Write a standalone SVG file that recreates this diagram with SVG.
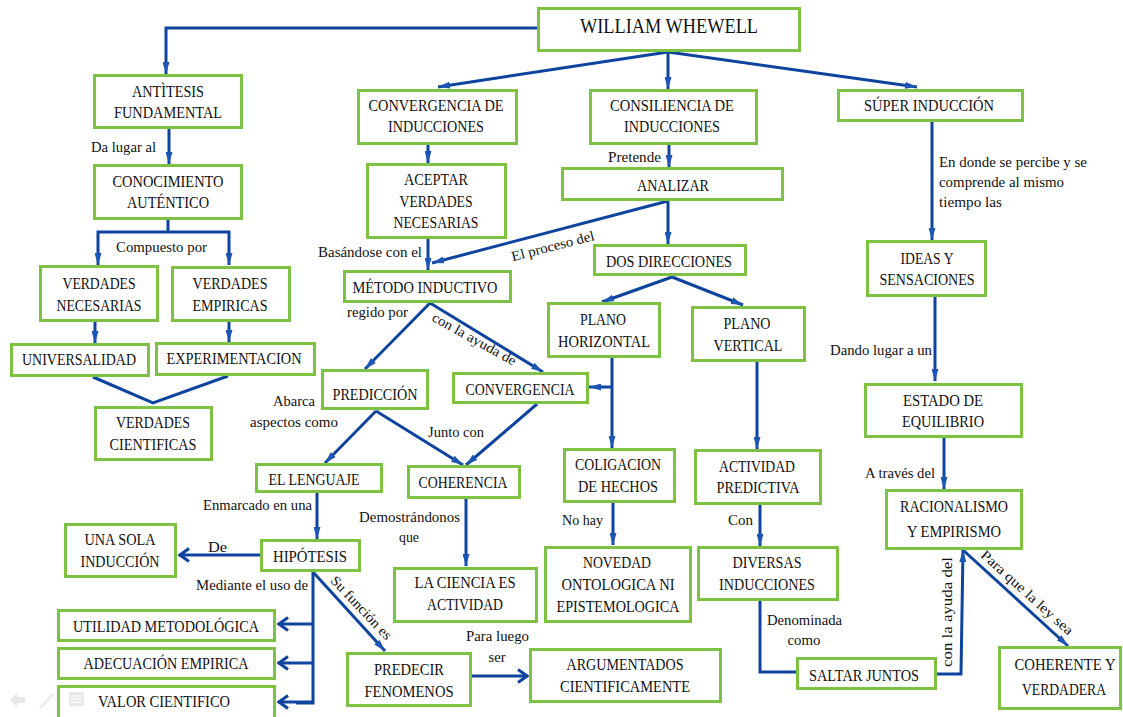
<svg xmlns="http://www.w3.org/2000/svg" width="1123" height="717" viewBox="0 0 1123 717">
  <defs>
    <style>
      .box { fill: #ffffff; stroke: #7dc242; stroke-width: 3; }
      .ln { fill: none; stroke: #0e449e; stroke-width: 3; stroke-linejoin: miter; }
      .arr { marker-end: url(#tri); }
      .opn { marker-end: url(#chev); }
      text { font-family: "Liberation Serif", "Times New Roman", serif; fill: #111111; }
      .t { font-size: 21px; text-anchor: middle; }
      .n { font-size: 16px; text-anchor: middle; }
      .l { font-size: 14px; }
      .lc { font-size: 14px; text-anchor: middle; }
      .ui { fill: #e8e8e8; stroke: none; }
    </style>
    <marker id="tri" viewBox="0 0 12 7" refX="12" refY="3.5" markerWidth="12" markerHeight="7" markerUnits="userSpaceOnUse" orient="auto">
      <path d="M0,0 L12,3.5 L0,7 Z" fill="#1c55b4"/>
    </marker>
    <marker id="chev" viewBox="0 0 12 16" refX="11" refY="8" markerWidth="12" markerHeight="16" markerUnits="userSpaceOnUse" orient="auto">
      <path d="M1,1.5 L10,8 L1,14.5" fill="none" stroke="#0e449e" stroke-width="3"/>
    </marker>
  </defs>

  <rect x="0" y="0" width="1123" height="717" fill="#ffffff"/>

  <!-- connectors -->
  <g id="connectors">
    <polyline class="ln arr" points="537,28 166,28 166,74"/>
    <line class="ln arr" x1="169" y1="129" x2="169" y2="164"/>
    <polyline class="ln" points="168,220 168,232"/>
    <polyline class="ln arr" points="168,232 98,232 98,265"/>
    <polyline class="ln arr" points="168,232 229,232 229,265"/>
    <line class="ln arr" x1="95" y1="322" x2="95" y2="343"/>
    <line class="ln arr" x1="229" y1="322" x2="229" y2="342"/>
    <polyline class="ln" points="93,377 153,403 228,376"/>

    <line class="ln arr" x1="668" y1="52" x2="438" y2="87"/>
    <line class="ln arr" x1="668" y1="52" x2="668" y2="89"/>
    <line class="ln arr" x1="668" y1="52" x2="917" y2="87"/>
    <line class="ln arr" x1="428" y1="145" x2="428" y2="163"/>
    <line class="ln arr" x1="669" y1="145" x2="669" y2="167"/>
    <line class="ln arr" x1="668" y1="201" x2="668" y2="244"/>
    <line class="ln arr" x1="668" y1="201" x2="432" y2="263"/>
    <line class="ln arr" x1="428" y1="239" x2="428" y2="270"/>

    <line class="ln arr" x1="430" y1="303" x2="365" y2="369"/>
    <line class="ln arr" x1="430" y1="303" x2="543" y2="372"/>
    <line class="ln arr" x1="672" y1="277" x2="602" y2="302"/>
    <line class="ln arr" x1="672" y1="277" x2="743" y2="305"/>
    <line class="ln arr" x1="612" y1="358" x2="612" y2="448"/>
    <line class="ln arr" x1="612" y1="387" x2="589" y2="387"/>
    <line class="ln arr" x1="757" y1="362" x2="757" y2="449"/>

    <line class="ln arr" x1="376" y1="411" x2="325" y2="463"/>
    <line class="ln arr" x1="376" y1="411" x2="463" y2="465"/>
    <line class="ln arr" x1="537" y1="404" x2="466" y2="465"/>
    <line class="ln arr" x1="317" y1="493" x2="317" y2="539"/>
    <line class="ln opn" x1="260" y1="555" x2="179" y2="555"/>
    <polyline class="ln" points="313,572 313,703 296,703"/>
    <line class="ln opn" x1="313" y1="624" x2="278" y2="624"/>
    <line class="ln opn" x1="313" y1="663" x2="278" y2="663"/>
    <line class="ln opn" x1="313" y1="702" x2="278" y2="702"/>
    <line class="ln arr" x1="313" y1="572" x2="385" y2="651"/>
    <line class="ln opn" x1="472" y1="676" x2="528" y2="676"/>
    <line class="ln arr" x1="466" y1="499" x2="466" y2="566"/>
    <line class="ln arr" x1="613" y1="503" x2="613" y2="545"/>
    <line class="ln arr" x1="760" y1="505" x2="760" y2="546"/>
    <polyline class="ln" points="760,601 760,672 797,672"/>
    <polyline class="ln arr" points="937,674 961,674 963,550"/>
    <line class="ln arr" x1="963" y1="550" x2="1068" y2="646"/>

    <line class="ln arr" x1="932" y1="122" x2="932" y2="240"/>
    <line class="ln arr" x1="935" y1="297" x2="935" y2="381"/>
    <line class="ln arr" x1="944" y1="438" x2="944" y2="489"/>
  </g>

  <!-- connector labels -->
  <g id="labels">
    <text class="l" x="91" y="152" textLength="65" lengthAdjust="spacingAndGlyphs">Da lugar al</text>
    <text class="l" x="116" y="252" textLength="91" lengthAdjust="spacingAndGlyphs">Compuesto por</text>
    <text class="l" x="608" y="162" textLength="53" lengthAdjust="spacingAndGlyphs">Pretende</text>
    <text class="l" x="939" y="167" textLength="148" lengthAdjust="spacingAndGlyphs">En donde se percibe y se</text>
    <text class="l" x="939" y="187" textLength="125" lengthAdjust="spacingAndGlyphs">comprende al mismo</text>
    <text class="l" x="939" y="207" textLength="63" lengthAdjust="spacingAndGlyphs">tiempo las</text>
    <text class="l" x="318" y="257" textLength="104" lengthAdjust="spacingAndGlyphs">Basándose con el</text>
    <text class="lc" transform="translate(554,250.5) rotate(-14.5)" x="0" y="0" textLength="85" lengthAdjust="spacingAndGlyphs">El proceso del</text>
    <text class="l" x="347" y="317" textLength="61" lengthAdjust="spacingAndGlyphs">regido por</text>
    <text class="lc" transform="translate(472,343) rotate(29)" x="0" y="0" textLength="94" lengthAdjust="spacingAndGlyphs">con la ayuda de</text>
    <text class="l" x="273" y="406" textLength="42" lengthAdjust="spacingAndGlyphs">Abarca</text>
    <text class="l" x="250" y="427" textLength="88" lengthAdjust="spacingAndGlyphs">aspectos como</text>
    <text class="l" x="428" y="437" textLength="56" lengthAdjust="spacingAndGlyphs">Junto con</text>
    <text class="l" x="830" y="355" textLength="102" lengthAdjust="spacingAndGlyphs">Dando lugar a un</text>
    <text class="l" x="865" y="478" textLength="70" lengthAdjust="spacingAndGlyphs">A través del</text>
    <text class="l" x="203" y="510" textLength="109" lengthAdjust="spacingAndGlyphs">Enmarcado en una</text>
    <text class="l" x="208" y="552" textLength="19" lengthAdjust="spacingAndGlyphs">De</text>
    <text class="l" x="196" y="590" textLength="112" lengthAdjust="spacingAndGlyphs">Mediante el uso de</text>
    <text class="lc" transform="translate(358,611) rotate(46.5)" x="0" y="0" textLength="82" lengthAdjust="spacingAndGlyphs">Su función es</text>
    <text class="l" x="359" y="522" textLength="101" lengthAdjust="spacingAndGlyphs">Demostrándonos</text>
    <text class="lc" x="409" y="542" textLength="20" lengthAdjust="spacingAndGlyphs">que</text>
    <text class="l" x="466" y="641" textLength="63" lengthAdjust="spacingAndGlyphs">Para luego</text>
    <text class="lc" x="497" y="662" textLength="17" lengthAdjust="spacingAndGlyphs">ser</text>
    <text class="l" x="562" y="525" textLength="41" lengthAdjust="spacingAndGlyphs">No hay</text>
    <text class="l" x="728" y="525" textLength="25" lengthAdjust="spacingAndGlyphs">Con</text>
    <text class="l" x="767" y="625" textLength="75" lengthAdjust="spacingAndGlyphs">Denominada</text>
    <text class="lc" x="804" y="645" textLength="33" lengthAdjust="spacingAndGlyphs">como</text>
    <text class="lc" transform="translate(952,612) rotate(-90)" x="0" y="0" textLength="110" lengthAdjust="spacingAndGlyphs">con la ayuda del</text>
    <text class="lc" transform="translate(1024,596) rotate(42)" x="0" y="0" textLength="119" lengthAdjust="spacingAndGlyphs">Para que la ley sea</text>
  </g>

  <!-- nodes -->
  <g id="n-whewell"><rect class="box" x="538.5" y="8.5" width="261" height="42"/>
    <text class="t" x="669" y="33" textLength="178" lengthAdjust="spacingAndGlyphs">WILLIAM WHEWELL</text></g>

  <g id="n-antitesis"><rect class="box" x="94.5" y="75.5" width="147" height="52"/>
    <text class="n" x="168" y="97" textLength="72" lengthAdjust="spacingAndGlyphs">ANTÌTESIS</text>
    <text class="n" x="168" y="118" textLength="108" lengthAdjust="spacingAndGlyphs">FUNDAMENTAL</text></g>

  <g id="n-conocimiento"><rect class="box" x="94.5" y="165.5" width="147" height="53"/>
    <text class="n" x="168" y="187" textLength="111" lengthAdjust="spacingAndGlyphs">CONOCIMIENTO</text>
    <text class="n" x="168" y="208" textLength="82" lengthAdjust="spacingAndGlyphs">AUTÉNTICO</text></g>

  <g id="n-verd-nec"><rect class="box" x="40.5" y="266.5" width="117" height="54"/>
    <text class="n" x="99" y="289" textLength="73" lengthAdjust="spacingAndGlyphs">VERDADES</text>
    <text class="n" x="99" y="311" textLength="85" lengthAdjust="spacingAndGlyphs">NECESARIAS</text></g>

  <g id="n-verd-emp"><rect class="box" x="172.5" y="267.5" width="117" height="53"/>
    <text class="n" x="230" y="289" textLength="75" lengthAdjust="spacingAndGlyphs">VERDADES</text>
    <text class="n" x="230" y="311" textLength="75" lengthAdjust="spacingAndGlyphs">EMPIRICAS</text></g>

  <g id="n-universalidad"><rect class="box" x="11.5" y="344.5" width="137" height="31"/>
    <text class="n" x="79" y="365" textLength="114" lengthAdjust="spacingAndGlyphs">UNIVERSALIDAD</text></g>

  <g id="n-experimentacion"><rect class="box" x="156.5" y="343.5" width="158" height="31"/>
    <text class="n" x="234" y="364" textLength="135" lengthAdjust="spacingAndGlyphs">EXPERIMENTACION</text></g>

  <g id="n-verd-cient"><rect class="box" x="95.5" y="407.5" width="116" height="52"/>
    <text class="n" x="153" y="428" textLength="74" lengthAdjust="spacingAndGlyphs">VERDADES</text>
    <text class="n" x="153" y="450" textLength="87" lengthAdjust="spacingAndGlyphs">CIENTIFICAS</text></g>

  <g id="n-convergencia-ind"><rect class="box" x="358.5" y="90.5" width="158" height="53"/>
    <text class="n" x="436" y="111" textLength="135" lengthAdjust="spacingAndGlyphs">CONVERGENCIA  DE</text>
    <text class="n" x="436" y="132" textLength="96" lengthAdjust="spacingAndGlyphs">INDUCCIONES</text></g>

  <g id="n-consiliencia"><rect class="box" x="590.5" y="90.5" width="166" height="53"/>
    <text class="n" x="672" y="111" textLength="124" lengthAdjust="spacingAndGlyphs">CONSILIENCIA  DE</text>
    <text class="n" x="672" y="132" textLength="96" lengthAdjust="spacingAndGlyphs">INDUCCIONES</text></g>

  <g id="n-super"><rect class="box" x="838.5" y="90.5" width="184" height="30"/>
    <text class="n" x="929" y="111" textLength="130" lengthAdjust="spacingAndGlyphs">SÚPER INDUCCIÓN</text></g>

  <g id="n-aceptar"><rect class="box" x="367.5" y="164.5" width="138" height="73"/>
    <text class="n" x="436" y="185" textLength="64" lengthAdjust="spacingAndGlyphs">ACEPTAR</text>
    <text class="n" x="436" y="207" textLength="73" lengthAdjust="spacingAndGlyphs">VERDADES</text>
    <text class="n" x="436" y="228" textLength="85" lengthAdjust="spacingAndGlyphs">NECESARIAS</text></g>

  <g id="n-analizar"><rect class="box" x="562.5" y="168.5" width="220" height="31"/>
    <text class="n" x="673" y="191" textLength="72" lengthAdjust="spacingAndGlyphs">ANALIZAR</text></g>

  <g id="n-dos"><rect class="box" x="594.5" y="245.5" width="151" height="29"/>
    <text class="n" x="669" y="267" textLength="126" lengthAdjust="spacingAndGlyphs">DOS DIRECCIONES</text></g>

  <g id="n-metodo"><rect class="box" x="344.5" y="271.5" width="166" height="30"/>
    <text class="n" x="425" y="293" textLength="145" lengthAdjust="spacingAndGlyphs">MÉTODO INDUCTIVO</text></g>

  <g id="n-prediccion"><rect class="box" x="322.5" y="370.5" width="105" height="38"/>
    <text class="n" x="375" y="400" textLength="85" lengthAdjust="spacingAndGlyphs">PREDICCIÓN</text></g>

  <g id="n-convergencia"><rect class="box" x="453.5" y="373.5" width="134" height="29"/>
    <text class="n" x="520" y="395" textLength="109" lengthAdjust="spacingAndGlyphs">CONVERGENCIA</text></g>

  <g id="n-plano-h"><rect class="box" x="548.5" y="303.5" width="111" height="53"/>
    <text class="n" x="603" y="325" textLength="46" lengthAdjust="spacingAndGlyphs">PLANO</text>
    <text class="n" x="604" y="347" textLength="92" lengthAdjust="spacingAndGlyphs">HORIZONTAL</text></g>

  <g id="n-plano-v"><rect class="box" x="692.5" y="307.5" width="112" height="53"/>
    <text class="n" x="747" y="329" textLength="47" lengthAdjust="spacingAndGlyphs">PLANO</text>
    <text class="n" x="748" y="351" textLength="69" lengthAdjust="spacingAndGlyphs">VERTICAL</text></g>

  <g id="n-ideas"><rect class="box" x="867.5" y="241.5" width="118" height="54"/>
    <text class="n" x="927" y="264" textLength="53" lengthAdjust="spacingAndGlyphs">IDEAS Y</text>
    <text class="n" x="927" y="285" textLength="95" lengthAdjust="spacingAndGlyphs">SENSACIONES</text></g>

  <g id="n-estado"><rect class="box" x="865.5" y="384.5" width="156" height="52"/>
    <text class="n" x="943" y="406" textLength="80" lengthAdjust="spacingAndGlyphs">ESTADO DE</text>
    <text class="n" x="943" y="427" textLength="82" lengthAdjust="spacingAndGlyphs">EQUILIBRIO</text></g>

  <g id="n-racionalismo"><rect class="box" x="886.5" y="490.5" width="135" height="58"/>
    <text class="n" x="954" y="512" textLength="108" lengthAdjust="spacingAndGlyphs">RACIONALISMO</text>
    <text class="n" x="954" y="537" textLength="94" lengthAdjust="spacingAndGlyphs">Y EMPIRISMO</text></g>

  <g id="n-actividad-pred"><rect class="box" x="695.5" y="450.5" width="125" height="53"/>
    <text class="n" x="757" y="472" textLength="76" lengthAdjust="spacingAndGlyphs">ACTIVIDAD</text>
    <text class="n" x="758" y="493" textLength="83" lengthAdjust="spacingAndGlyphs">PREDICTIVA</text></g>

  <g id="n-diversas"><rect class="box" x="698.5" y="547.5" width="139" height="52"/>
    <text class="n" x="767" y="568" textLength="69" lengthAdjust="spacingAndGlyphs">DIVERSAS</text>
    <text class="n" x="767" y="590" textLength="96" lengthAdjust="spacingAndGlyphs">INDUCCIONES</text></g>

  <g id="n-saltar"><rect class="box" x="797.5" y="658.5" width="138" height="30"/>
    <text class="n" x="864" y="681" textLength="110" lengthAdjust="spacingAndGlyphs">SALTAR JUNTOS</text></g>

  <g id="n-coherente"><rect class="box" x="999.5" y="647.5" width="121" height="61"/>
    <text class="n" x="1065" y="670" textLength="101" lengthAdjust="spacingAndGlyphs">COHERENTE  Y</text>
    <text class="n" x="1064" y="695" textLength="84" lengthAdjust="spacingAndGlyphs">VERDADERA</text></g>

  <g id="n-lenguaje"><rect class="box" x="256.5" y="464.5" width="125" height="27"/>
    <text class="n" x="314" y="485" textLength="91" lengthAdjust="spacingAndGlyphs">EL LENGUAJE</text></g>

  <g id="n-coherencia"><rect class="box" x="408.5" y="466.5" width="111" height="31"/>
    <text class="n" x="463" y="488" textLength="89" lengthAdjust="spacingAndGlyphs">COHERENCIA</text></g>

  <g id="n-hipotesis"><rect class="box" x="261.5" y="540.5" width="98" height="30"/>
    <text class="n" x="310" y="562" textLength="74" lengthAdjust="spacingAndGlyphs">HIPÓTESIS</text></g>

  <g id="n-una-sola"><rect class="box" x="65.5" y="524.5" width="110" height="52"/>
    <text class="n" x="120" y="545" textLength="71" lengthAdjust="spacingAndGlyphs">UNA SOLA</text>
    <text class="n" x="120" y="567" textLength="79" lengthAdjust="spacingAndGlyphs">INDUCCIÓN</text></g>

  <g id="n-utilidad"><rect class="box" x="58.5" y="610.5" width="216" height="30"/>
    <text class="n" x="166" y="632" textLength="186" lengthAdjust="spacingAndGlyphs">UTILIDAD METODOLÓGICA</text></g>

  <g id="n-adecuacion"><rect class="box" x="58.5" y="648.5" width="216" height="30"/>
    <text class="n" x="166" y="669" textLength="165" lengthAdjust="spacingAndGlyphs">ADECUACIÓN  EMPIRICA</text></g>

  <g id="n-valor"><rect class="box" x="58.5" y="686.5" width="216" height="34"/>
    <text class="n" x="164" y="707" textLength="132" lengthAdjust="spacingAndGlyphs">VALOR CIENTIFICO</text></g>

  <g id="n-ciencia"><rect class="box" x="394.5" y="568.5" width="142" height="53"/>
    <text class="n" x="465" y="588" textLength="101" lengthAdjust="spacingAndGlyphs">LA CIENCIA  ES</text>
    <text class="n" x="465" y="610" textLength="76" lengthAdjust="spacingAndGlyphs">ACTIVIDAD</text></g>

  <g id="n-coligacion"><rect class="box" x="564.5" y="449.5" width="110" height="52"/>
    <text class="n" x="618" y="470" textLength="86" lengthAdjust="spacingAndGlyphs">COLIGACION</text>
    <text class="n" x="618" y="492" textLength="80" lengthAdjust="spacingAndGlyphs">DE HECHOS</text></g>

  <g id="n-novedad"><rect class="box" x="545.5" y="547.5" width="145" height="74"/>
    <text class="n" x="617" y="568" textLength="68" lengthAdjust="spacingAndGlyphs">NOVEDAD</text>
    <text class="n" x="618" y="590" textLength="113" lengthAdjust="spacingAndGlyphs">ONTOLOGICA NI</text>
    <text class="n" x="618" y="612" textLength="123" lengthAdjust="spacingAndGlyphs">EPISTEMOLOGICA</text></g>

  <g id="n-predecir"><rect class="box" x="347.5" y="653.5" width="123" height="52"/>
    <text class="n" x="409" y="675" textLength="70" lengthAdjust="spacingAndGlyphs">PREDECIR</text>
    <text class="n" x="409" y="697" textLength="89" lengthAdjust="spacingAndGlyphs">FENOMENOS</text></g>

  <g id="n-argumentados"><rect class="box" x="530.5" y="649.5" width="190" height="52"/>
    <text class="n" x="625" y="670" textLength="117" lengthAdjust="spacingAndGlyphs">ARGUMENTADOS</text>
    <text class="n" x="625" y="692" textLength="130" lengthAdjust="spacingAndGlyphs">CIENTIFICAMENTE</text></g>

  <!-- faint viewer controls in the lower-left corner -->
  <g id="viewer-controls">
    <path class="ui" d="M10,700 L17,693 L17,697 L25,697 L25,703 L17,703 L17,707 Z"/>
    <path d="M40,708 L53,694" stroke="#ececec" stroke-width="3" fill="none"/>
    <rect class="ui" x="69" y="692" width="15" height="14" rx="1"/>
    <path d="M71,696 H82 M71,699 H82 M71,702 H82" stroke="#ffffff" stroke-width="1"/>
  </g>
</svg>
